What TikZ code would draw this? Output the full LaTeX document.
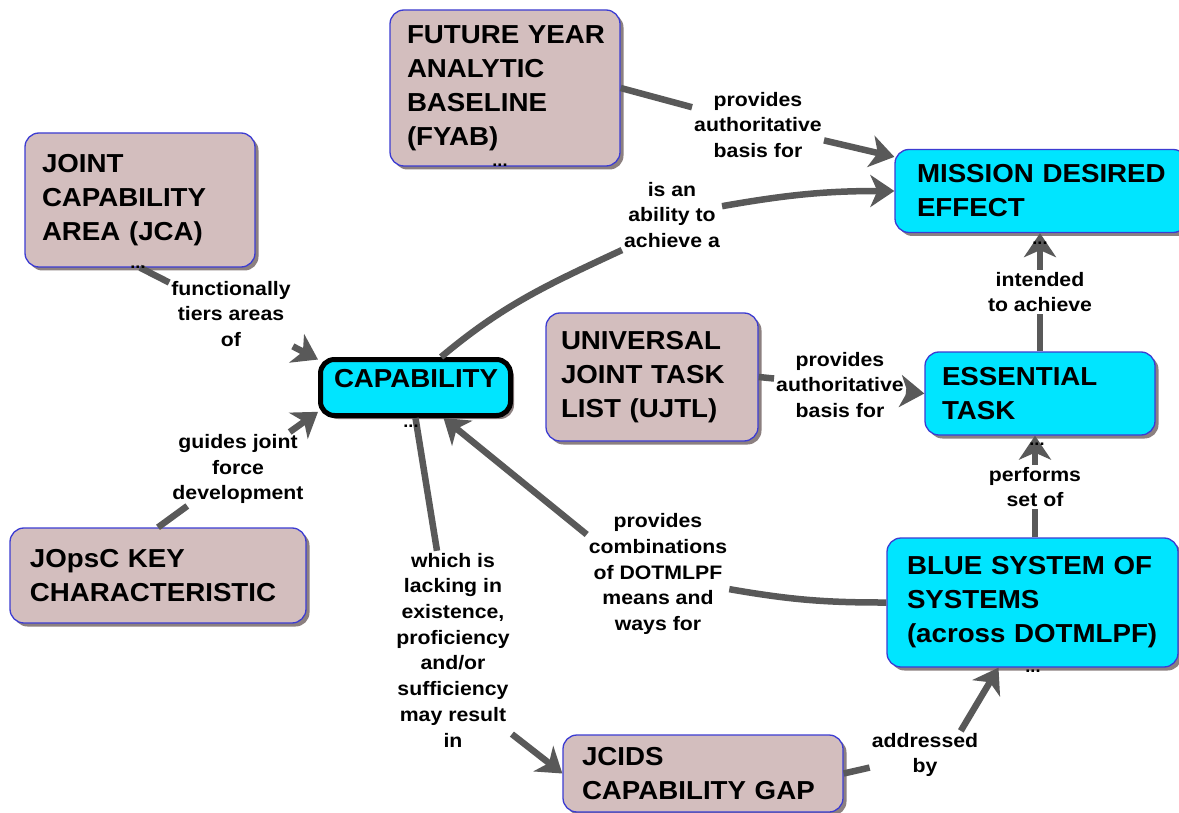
\documentclass[tikz,border=0pt]{standalone}
\usepackage{fontspec}
\usetikzlibrary{arrows.meta,shadows}
\newfontfamily\boxfont[FakeStretch=1.065]{Liberation Sans}
\newfontfamily\linkfont[FakeStretch=1.09]{Liberation Sans}

\definecolor{rosy}{RGB}{211,190,190}
\definecolor{aqua}{RGB}{0,229,255}
\definecolor{rim}{RGB}{60,60,210}
\definecolor{shade}{RGB}{140,128,128}
\definecolor{wire}{RGB}{89,89,89}

\tikzset{
  concept/.style={rectangle, rounded corners=14pt, draw=rim, line width=1.3pt,
    inner ysep=3pt, align=left,
    font=\boxfont\bfseries\fontsize{26}{34}\selectfont,
    execute at begin node={\hyphenpenalty=10000\exhyphenpenalty=10000\hbadness=10000\hfuzz=50pt},
    drop shadow={shadow xshift=3.5pt, shadow yshift=-3.5pt, fill=shade, opacity=1}},
  rosebox/.style={concept, fill=rosy},
  cyanbox/.style={concept, fill=aqua},
  linklabel/.style={align=center, inner sep=2pt,
    font=\linkfont\bfseries\fontsize{19.5}{25.7}\selectfont},
  conn/.style={draw=wire, line width=6.5pt},
  arr/.style={-{Stealth[length=24pt,width=32pt,inset=7pt]}},
  more/.style={font=\boxfont\bfseries\fontsize{17}{17}\selectfont, inner sep=0pt, anchor=base},
}

\begin{document}
\begin{tikzpicture}[x=1pt,y=-1pt]
\useasboundingbox (0,0) rectangle (1179,813);
\fill[white] (0,0) rectangle (1179,813);

% concepts
\node[rosebox, minimum height=156pt, text width=196pt, inner xsep=17pt] (fyab) at (505,88)
  {FUTURE~YEAR\\ANALYTIC\\BASELINE\\(FYAB)};
\node[rosebox, minimum height=134pt, text width=196pt, inner xsep=17pt] (jca) at (140,200)
  {JOINT\\CAPABILITY\\AREA~(JCA)};
\node[cyanbox, minimum height=83pt, text width=248pt, inner xsep=22pt] (mde) at (1041,191)
  {MISSION~DESIRED\\EFFECT};
\node[cyanbox, draw=black, line width=5pt, align=center, text width=163pt, inner xsep=13.5pt,
  inner ysep=4pt, text height=23.5pt, text depth=24.5pt] (cap) at (415.5,387.5) {CAPABILITY};
\node[rosebox, minimum height=128pt, text width=182pt, inner xsep=15pt] (ujtl) at (652,377)
  {UNIVERSAL\\JOINT~TASK\\LIST~(UJTL)};
\node[cyanbox, minimum height=83pt, text width=196pt, inner xsep=17pt] (et) at (1040,393.5)
  {ESSENTIAL\\TASK};
\node[rosebox, minimum height=95pt, text width=256pt, inner xsep=20pt] (jopsc) at (158,575.5)
  {JOpsC~KEY\\CHARACTERISTIC};
\node[cyanbox, minimum height=129pt, text width=251pt, inner xsep=20pt] (blue) at (1032.5,602.5)
  {BLUE~SYSTEM~OF\\SYSTEMS\\(across~DOTMLPF)};
\node[rosebox, minimum height=77pt, text width=242pt, inner xsep=19pt] (jcids) at (703,773.5)
  {JCIDS\\CAPABILITY~GAP};

% link phrases
\node[linklabel] (lab1) at (758,125) {provides\\authoritative\\basis for};
\node[linklabel] (lab2) at (672,215) {is an\\ability to\\achieve a};
\node[linklabel] (lab3) at (231,314) {functionally\\tiers areas\\of};
\node[linklabel] (lab4) at (238,469) {guides joint\\force\\development};
\node[linklabel] (lab5) at (453,650) {which is\\lacking in\\existence,\\proficiency\\and/or\\sufficiency\\may result\\in};
\node[linklabel] (lab6) at (658,574) {provides\\combinations\\of DOTMLPF\\means and\\ways for};
\node[linklabel] (lab7) at (1040,292) {intended\\to achieve};
\node[linklabel] (lab8) at (840,385) {provides\\authoritative\\basis for};
\node[linklabel] (lab9) at (1035,487) {performs\\set of};
\node[linklabel] (lab10) at (925,755) {addressed\\by};

% connectors
\draw[conn] (fyab.east) -- (lab1);
\draw[conn,arr] (lab1) -- (mde);

\draw[conn] (cap.50) to[out=40,in=205] (lab2.south west);
\draw[conn,arr] (lab2.10) to[out=10,in=180] (mde.west);

\draw[conn] (jca.south) -- (lab3);
\draw[conn,arr] (lab3) -- (cap.164);

\draw[conn] (jopsc.north) -- (lab4);
\draw[conn,arr] (lab4) -- (cap.194);

\draw[conn] (cap.south) -- (lab5);
\draw[conn,arr] (lab5.-55) -- (jcids.west);

\draw[conn] (blue.west) to[bend left=5] (lab6.-12);
\draw[conn,arr] (lab6.151) -- ([xshift=28pt]cap.south);

\draw[conn] (et.north) -- (lab7);
\draw[conn,arr] (lab7) -- (lab7 |- mde.south);

\draw[conn] (ujtl.east) -- (lab8);
\draw[conn,arr] (lab8) -- (et.west);

\draw[conn] (lab9 |- blue.north) -- (lab9);
\draw[conn,arr] (lab9) -- (lab9 |- et.south);

\draw[conn] (jcids.east) -- (lab10);
\draw[conn,arr] (lab10.34) -- ([xshift=-34pt]blue.south);

% hidden-link markers
\node[more] (fyabmore) at (500,167) {...};
\node[more] (jcamore) at (138,269) {...};
\node[more] (capmore) at (411,427) {...};
\node[more] (mdemore) at (1040,245) {...};
\node[more] (etmore) at (1037,445) {...};
\node[more] (bluemore) at (1033,672) {...};
\end{tikzpicture}
\end{document}
